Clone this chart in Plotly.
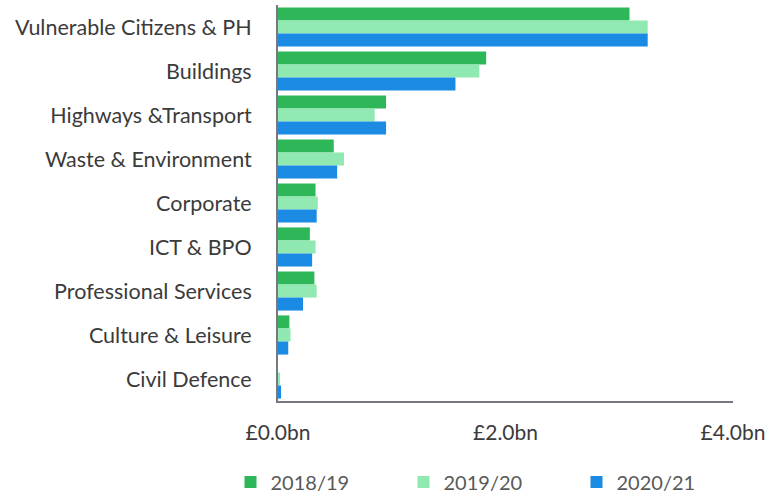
import plotly.graph_objects as go

# Spend by category (GBP billions)
categories = [
    "Vulnerable Citizens & PH",
    "Buildings",
    "Highways &Transport",
    "Waste & Environment",
    "Corporate",
    "ICT & BPO",
    "Professional Services",
    "Culture & Leisure",
    "Civil Defence",
]
series_names = ["2018/19", "2019/20", "2020/21"]
spend_2018_19 = [3.09, 1.83, 0.95, 0.49, 0.33, 0.28, 0.32, 0.10, 0.0]
spend_2019_20 = [3.25, 1.77, 0.85, 0.58, 0.35, 0.33, 0.34, 0.11, 0.01]
spend_2020_21 = [3.25, 1.56, 0.95, 0.52, 0.34, 0.30, 0.22, 0.09, 0.027]
x_tick_values = [0, 2, 4]
x_tick_labels = ["£0.0bn", "£2.0bn", "£4.0bn"]

colors = ["#2EB759", "#8FE9B0", "#1A8AE2"]
values = [spend_2018_19, spend_2019_20, spend_2020_21]

fig = go.Figure()
for name, vals, col in zip(series_names, values, colors):
    fig.add_trace(go.Bar(
        y=categories, x=vals, name=name, orientation="h",
        marker=dict(color=col, line=dict(width=0)),
    ))

FONT = "Lato"
PLOT_W = 767 - 278 - 34
PLOT_H = 495 - 5 - 94
fig.update_layout(
    width=767, height=495,
    margin=dict(l=278, r=34, t=5, b=94, autoexpand=False),
    paper_bgcolor="white", plot_bgcolor="white",
    barmode="group", bargap=0.11, bargroupgap=0,
    font=dict(family=FONT, size=21, color="#3b3b3b"),
    showlegend=True,
    legend=dict(
        orientation="h", xref="paper", yref="paper",
        x=-0.1 - 2 / PLOT_W, xanchor="left",
        y=-81 / PLOT_H, yanchor="middle",
        font=dict(family=FONT, size=20, color="#595959"),
        entrywidth=128, entrywidthmode="pixels",
        bgcolor="rgba(0,0,0,0)",
    ),
)
fig.update_xaxes(
    range=[0, 4], tickvals=x_tick_values, ticktext=x_tick_labels,
    showgrid=False, zeroline=False, showline=True, linecolor="#77777f",
    linewidth=2, ticks="", ticklabelstandoff=12, automargin=False,
    tickfont=dict(family=FONT, size=21, color="#3b3b3b"),
)
fig.update_yaxes(
    autorange="reversed", showgrid=False, zeroline=False, showline=True,
    linecolor="#77777f", linewidth=2, ticks="", ticklabelstandoff=20,
    automargin=False,
    tickfont=dict(family=FONT, size=21.5, color="#3b3b3b"),
)

fig.write_html("out.html")
